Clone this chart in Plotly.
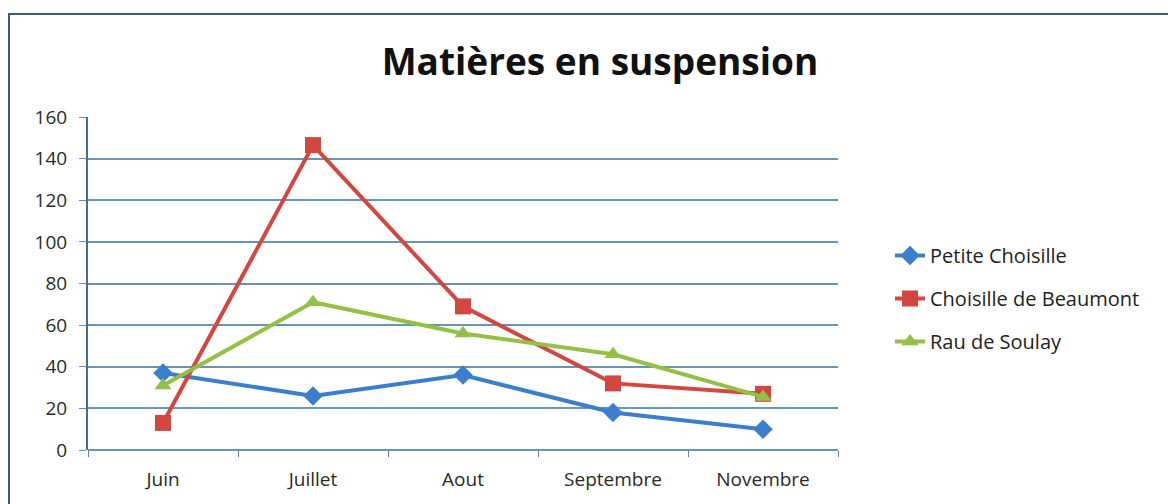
import plotly.graph_objects as go

months = ["Juin", "Juillet", "Aout", "Septembre", "Novembre"]
petite_choisille = [37, 26, 36, 18, 10]
choisille_beaumont = [13, 146.5, 69, 32, 27]
rau_soulay = [31, 71, 56, 46, 25.5]

series = [
    ("Petite Choisille", petite_choisille, "#3b7fcc", "diamond", 15),
    ("Choisille de Beaumont", choisille_beaumont, "#d2473f", "square", 16),
    ("Rau de Soulay", rau_soulay, "#94c047", "triangle-up", 15),
]

fig = go.Figure()
for name, vals, col, sym, sz in series:
    fig.add_trace(go.Scatter(
        x=months, y=vals, name=name, mode="lines+markers",
        legendgroup=name,
        line=dict(color=col, width=4),
        marker=dict(symbol=sym, size=sz, color=col, line=dict(width=0)),
    ))

# page has an 8px body margin; figure coordinates below are screen - 8
W, H = 1168, 496
L, R, T, B = 80, 338, 109, 54
pw, ph = W - L - R, H - T - B

def px(xpix):
    return (xpix - L) / pw

def py(ypix):
    return (H - B - ypix) / ph

fig.update_layout(
    width=W, height=H,
    margin=dict(l=L, r=R, t=T, b=B),
    paper_bgcolor="white", plot_bgcolor="white",
    font=dict(family="Open Sans, Lato, sans-serif", color="#2a2a2a", size=19),
    title=dict(text="Matières en suspension", x=592 / W, xanchor="center",
               y=1 - 54 / H, yanchor="middle",
               font=dict(family="Open Sans", size=37, color="#111", weight=700)),
    showlegend=True,
    legend=dict(x=px(882), y=py(228), xanchor="left", yanchor="top",
                font=dict(size=20, color="#222"), tracegroupgap=14,
                bgcolor="rgba(0,0,0,0)"),
    xaxis=dict(type="category", range=[-0.5, 4.5], showgrid=False,
               showline=False, ticks="outside", ticklen=6, tickcolor="#5a86aa",
               tickson="boundaries", tickfont=dict(size=19), zeroline=False,
               ticklabelstandoff=16),
    yaxis=dict(range=[0, 160], dtick=20, showgrid=True, gridcolor="#6a93b8",
               gridwidth=1.5, showline=True, linecolor="#4a6a88", linewidth=2,
               ticks="outside", ticklen=7, tickcolor="#6a93b8",
               tickfont=dict(size=19), zeroline=True, zerolinecolor="#6a93b8",
               zerolinewidth=1.5, ticklabelstandoff=8),
    shapes=[dict(type="rect", xref="paper", yref="paper",
                 x0=px(1), x1=px(1200), y0=py(520), y1=py(6),
                 line=dict(color="#3d5a73", width=2), layer="below")],
)

fig.write_html("out.html")
